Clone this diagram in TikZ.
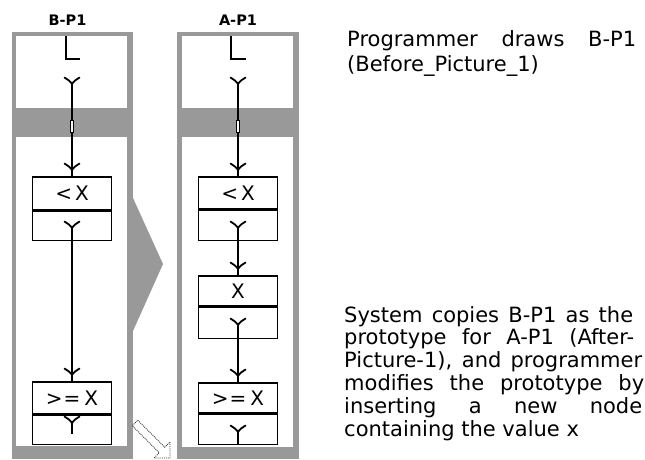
\documentclass[tikz,border=0pt]{standalone}
\usepackage{fontspec}
\setmainfont{DejaVu Sans}
\usetikzlibrary{calc}
\definecolor{framegray}{RGB}{153,153,153}
\begin{document}
\begin{tikzpicture}[x=1pt,y=-1pt,
  conn/.style={line width=1.5pt},
  glyph/.style={line width=1.5pt},
  cell/.style={draw, line width=1.5pt, minimum width=79pt, inner sep=0pt, anchor=north, font=\fontsize{20}{22}\selectfont},
  para/.style={inner sep=0pt, anchor=base west, font=\fontsize{21}{25}\selectfont},
  paneltitle/.style={inner sep=0pt, anchor=base, font=\bfseries\fontsize{14.5}{16}\selectfont},
  yf/.pic={\draw[line width=1.8pt, line cap=round] (-7.5,-6.5) .. controls (-4.5,-5) and (-1.5,-2.5) .. (0,0) .. controls (1.5,-2.5) and (4.5,-5) .. (7.5,-6.5);},
  hollow/.style={draw=black!80, densely dotted, line width=0.9pt, fill=white},
  gapmark/.style={draw=black, line width=0.7pt, fill=white}
]
\useasboundingbox (0,0) rectangle (645,459);
\fill[white] (0,0) rectangle (645,459);

% panel frames
\fill[framegray] (12,32) rectangle (133,459);
\fill[white] (16,36) rectangle (127,108);
\fill[white] (16,137) rectangle (127,446);
\fill[framegray] (177,32) rectangle (299,459);
\fill[white] (182,36) rectangle (293,108);
\fill[white] (182,137) rectangle (293,447);

% chevron between panels
\fill[framegray] (133,198) -- (163,264) -- (133,331) -- cycle;

% hollow arrow
\draw[hollow] (137.8,420.2) -- (164.8,447.2) -- (170,442) -- (170,458) -- (154,458) -- (159.2,452.8) -- (132.2,425.8) -- cycle;

% titles
\node[paneltitle] (tb) at (67.5,25) {B-P1};
\node[paneltitle] (ta) at (238,25) {A-P1};

% start glyphs
\draw[glyph] (66,36) -- (66,59) -- (80,59);
\draw[glyph] (231,36) -- (231,59) -- (246,59);

% left panel boxes
\node[cell, minimum height=33pt] (lb1t) at (72,176) {<\hspace{3pt}X};
\node[cell, minimum height=29pt] (lb1b) at (lb1t.south) {};
\node[cell, minimum height=32pt] (lb2t) at (72,381) {>\hspace{1pt}=\hspace{4pt}X};
\node[cell, minimum height=29pt] (lb2b) at (lb2t.south) {};

% right panel boxes
\node[cell, minimum height=32pt] (rb1t) at (238,176) {<\hspace{3pt}X};
\node[cell, minimum height=30pt] (rb1b) at (rb1t.south) {};
\node[cell, minimum height=30pt] (rbxt) at (238,275) {X};
\node[cell, minimum height=31pt] (rbxb) at (rbxt.south) {};
\node[cell, minimum height=30pt] (rb3t) at (238,382) {>\hspace{1pt}=\hspace{4pt}X};
\node[cell, minimum height=30pt] (rb3b) at (rb3t.south) {};

% fork points
\coordinate (lf0) at (72,84);
\coordinate (lf1) at (72,228);
\coordinate (lf2) at (72,423);
\coordinate (lf2e) at (72,434);
\coordinate (rf0) at (238,84);
\coordinate (rf1) at (238,228);
\coordinate (rf2) at (238,325);
\coordinate (rf3) at (238,432);

% left connectors
\draw[conn] (lf0) -- (lf0 |- lb1t.north);
\draw[gapmark] (70.3,120) rectangle (73.7,132);
\draw[conn] (lf1) -- (lf1 |- lb2t.north);
\draw[conn] (lf2) -- (lf2e);
\pic at (lf0) {yf};
\pic at (lf1) {yf};
\pic at (lf2) {yf};
\pic at ($(lb1t.north)+(0,-6)$) {yf};
\pic at ($(lb2t.north)+(0,-6)$) {yf};

% right connectors
\draw[conn] (rf0) -- (rf0 |- rb1t.north);
\draw[gapmark] (236.3,120) rectangle (239.7,132);
\draw[conn] (rf1) -- (rf1 |- rbxt.north);
\draw[conn] (rf2) -- (rf2 |- rb3t.north);
\draw[conn] (rf3) -- (rf3 |- rb3b.south);
\pic at (rf0) {yf};
\pic at (rf1) {yf};
\pic at (rf2) {yf};
\pic at (rf3) {yf};
\pic at ($(rb1t.north)+(0,-6)$) {yf};
\pic at ($(rbxt.north)+(0,-6)$) {yf};
\pic at ($(rb3t.north)+(0,-6)$) {yf};

% text
\node[para] (p1a) at (347,46.7) {\makebox[289pt][s]{Programmer draws B-P1}};
\node[para] (p1b) at (347,71.7) {(Before\_Picture\_1)};
\node[para] (p2a) at (344,322) {\makebox[289pt][s]{System copies B-P1 as the}};
\node[para] (p2b) at (344,344.8) {\makebox[290pt][s]{prototype for A-P1 (After-}};
\node[para] (p2c) at (344,367.6) {\makebox[298pt][s]{Picture-1), and programmer}};
\node[para] (p2d) at (344,390.4) {\makebox[300pt][s]{modifies the prototype by}};
\node[para] (p2e) at (344,413.2) {\makebox[298pt][s]{inserting a new node}};
\node[para] (p2f) at (344,436) {containing the value x};
\end{tikzpicture}
\end{document}
